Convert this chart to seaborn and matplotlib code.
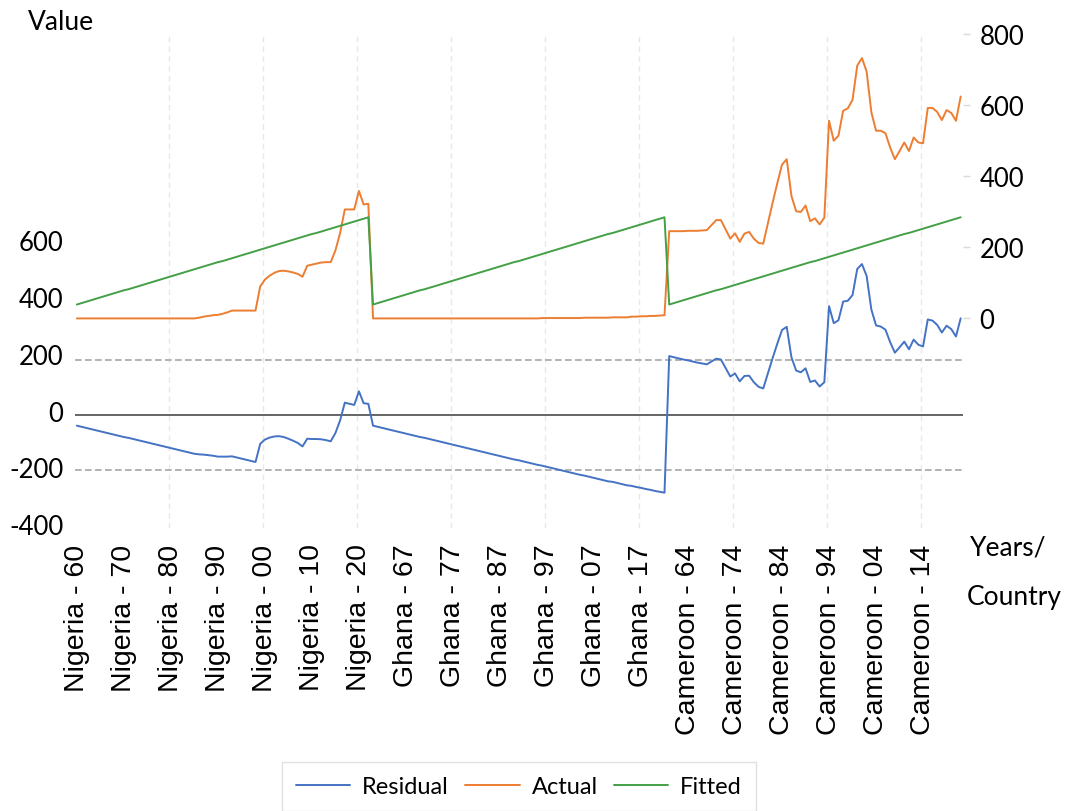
import pandas as pd
import seaborn as sns
import matplotlib.pyplot as plt
from matplotlib.transforms import ScaledTranslation

# Pooled regression output: actual, fitted and residual by country and year
countries = ["Nigeria", "Ghana", "Cameroon"]
years = list(range(1960, 2023))

nigeria_actual = [0, 0, 0, 0, 0, 0, 0, 0, 0, 0,
                  0, 0, 0, 0, 0, 0, 0, 0, 0, 0,
                  0, 0, 0, 0, 0, 0, 2, 5, 7, 9,
                  10, 13, 17, 22, 22, 22, 22, 22, 22, 90,
                  109, 120, 128, 133, 134, 132, 129, 125, 117, 148,
                  151, 154, 157, 158, 158, 191, 240, 306, 306, 306,
                  358, 320, 322]
ghana_actual = [0, 0, 0, 0, 0, 0, 0, 0, 0, 0,
                0, 0, 0, 0, 0, 0, 0, 0, 0, 0,
                0, 0, 0, 0, 0, 0, 0, 0, 0, 0,
                0, 0, 0, 0, 0, 0, 1, 1, 1, 1,
                1, 1, 1, 1, 1, 2, 2, 2, 2, 2,
                2, 3, 3, 3, 3, 5, 5, 6, 6, 7,
                7, 8, 9]
cameroon_actual = [245, 245, 245, 245, 246, 246, 246, 247, 248, 262,
                   276, 276, 250, 224, 239, 215, 238, 243, 224, 212,
                   210, 268, 325, 380, 432, 447, 344, 301, 299, 317,
                   273, 281, 264, 283, 555, 499, 513, 583, 590, 614,
                   710, 731, 693, 579, 527, 527, 520, 480, 447, 470,
                   494, 470, 508, 494, 492, 591, 591, 580, 557, 585,
                   577, 555, 623]
fitted_by_year = [39, 43, 47, 51, 55, 59, 63, 67, 71, 75,
                  79, 82, 86, 90, 94, 98, 102, 106, 110, 114,
                  118, 122, 126, 130, 134, 138, 142, 146, 150, 154,
                  158, 161, 165, 169, 173, 177, 181, 185, 189, 193,
                  197, 201, 205, 209, 213, 217, 221, 225, 229, 233,
                  237, 240, 244, 248, 252, 256, 260, 264, 268, 272,
                  276, 280, 284]
se_band = 194  # +/- standard error of regression

rows = []
for country, actual in zip(countries, [nigeria_actual, ghana_actual, cameroon_actual]):
    for year, a, f in zip(years, actual, fitted_by_year):
        rows.append({"country": country, "year": year, "Actual": a, "Fitted": f})
df = pd.DataFrame(rows)
df["Residual"] = df["Actual"] - df["Fitted"]
df["obs"] = range(len(df))
df["label"] = df["country"] + " - " + (df["year"] % 100).map("{:02d}".format)

colors = {"Residual": "#4472C4", "Actual": "#ED7D31", "Fitted": "#43A047"}

sns.set_style("white")
plt.rcParams["font.family"] = ["Lato", "DejaVu Sans"]
plt.rcParams["axes.unicode_minus"] = False
plt.rcParams["text.color"] = "black"
plt.rcParams["xtick.labelcolor"] = "black"
plt.rcParams["ytick.labelcolor"] = "black"

fig = plt.figure(figsize=(10.66, 8.12), dpi=100)
ax = fig.add_axes([0.0699, 0.3483, 0.8335, 0.6092])
ax2 = ax.twinx()

# grid and reference lines
for b in range(20, 189, 20):
    ax.axvline(b - 0.5, color="#e8e8e8", lw=1, ls=(0, (4, 3)), zorder=0)
ax.axhline(0, color="#595959", lw=1.3, zorder=1)
for s in (se_band, -se_band):
    ax.axhline(s, color="#a6a6a6", lw=1.2, ls=(0, (4, 2)), zorder=1)

sns.lineplot(data=df, x="obs", y="Residual", ax=ax, color=colors["Residual"], lw=1.4, label="Residual")
sns.lineplot(data=df, x="obs", y="Actual", ax=ax2, color=colors["Actual"], lw=1.4, label="Actual")
sns.lineplot(data=df, x="obs", y="Fitted", ax=ax2, color=colors["Fitted"], lw=1.4, label="Fitted")

h1, l1 = ax.get_legend_handles_labels()
h2, l2 = ax2.get_legend_handles_labels()
ax.get_legend().remove()
ax2.get_legend().remove()

ax.set_xlim(-0.5, 188.5)
ax.set_xticks(df["obs"][::10])
ax.set_xticklabels(df["label"][::10], rotation=90, fontsize=20.5, family=["Liberation Sans", "DejaVu Sans"])
ax.tick_params(axis="x", length=0, pad=11, labelcolor="black")

ax.set_ylim(-400, 1342)
ax.set_yticks([-400, -200, 0, 200, 400, 600])
ax.tick_params(axis="y", length=0, labelsize=18.5, pad=8, labelcolor="black")
# left labels sit a few pixels above their value, as in the original
shift = ScaledTranslation(0, 4 / 100, fig.dpi_scale_trans)
for t in ax.get_yticklabels():
    t.set_transform(t.get_transform() + shift)

ax2.set_ylim(-589, 800)
ax2.set_yticks([0, 200, 400, 600, 800])
ax2.tick_params(axis="y", length=5, width=1, color="#d9d9d9", labelsize=18.5, pad=7, labelcolor="black")

for a in (ax, ax2):
    a.set_xlabel("")
    a.set_ylabel("")
    for sp in a.spines.values():
        sp.set_visible(False)

fig.text(28 / 1066, 1 - 22 / 812, "Value", fontsize=19, va="center", ha="left", color="black")
fig.text(970 / 1066, 1 - 548 / 812, "Years/", fontsize=19, va="center", ha="left", color="black")
fig.text(967 / 1066, 1 - 598 / 812, "Country", fontsize=19, va="center", ha="left", color="black")

leg = fig.legend(h1 + h2, l1 + l2, loc="upper center", bbox_to_anchor=(519 / 1066, 1 - 763 / 812),
                 ncol=3, frameon=True, fancybox=False, edgecolor="#d9d9d9", fontsize=17,
                 handlelength=2.3, handletextpad=0.5, columnspacing=0.7, borderpad=0.6,
                 borderaxespad=0)
leg.get_frame().set_linewidth(1)
for t in leg.get_texts():
    t.set_color("black")

fig.savefig("out.png", dpi=100)
